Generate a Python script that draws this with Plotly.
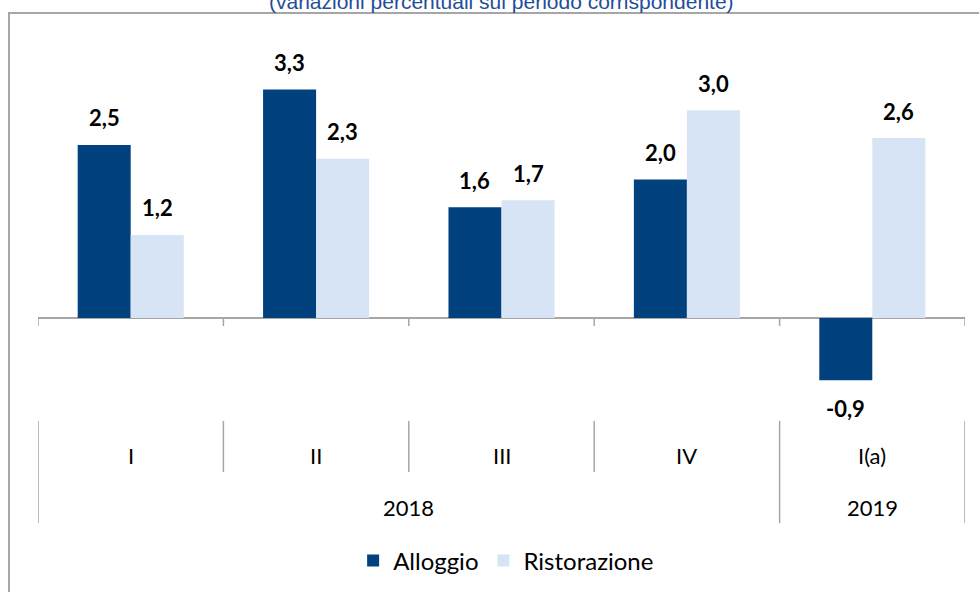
import plotly.graph_objects as go

quarters = ["I", "II", "III", "IV", "I(a)"]
years = ["2018", "2018", "2018", "2018", "2019"]
alloggio = [2.5, 3.3, 1.6, 2.0, -0.9]
ristorazione = [1.2, 2.3, 1.7, 3.0, 2.6]
series_names = ["Alloggio", "Ristorazione"]
title_text = "(variazioni percentuali sul periodo corrispondente)"

C_DARK = "#00417E"
C_LIGHT = "#D6E4F5"
C_LINE = "#A6A6A6"
FONT = "Lato"

idx = list(range(len(quarters)))
w = 0.286

def fmt(v):
    return f"{v:.1f}".replace(".", ",")

fig = go.Figure()
fig.add_trace(go.Bar(x=idx, y=alloggio, name=series_names[0], width=w, offset=-w,
                     marker=dict(color=C_DARK, line=dict(width=0))))
fig.add_trace(go.Bar(x=idx, y=ristorazione, name=series_names[1], width=w, offset=0,
                     marker=dict(color=C_LIGHT, line=dict(width=0))))

ann = []
for i, (a, r) in enumerate(zip(alloggio, ristorazione)):
    for xv, v in ((i - w / 2, a), (i + w / 2, r)):
        ann.append(dict(x=xv, y=v, xref="x", yref="y", text=fmt(v), showarrow=False,
                        yanchor="middle", yshift=27 if v >= 0 else -28,
                        font=dict(family=FONT, size=22, color="#000000", weight="bold")))

# category labels
for i, q in enumerate(quarters):
    ann.append(dict(x=i, y=0.2395, xref="x", yref="paper", text=q, showarrow=False,
                    yanchor="middle", font=dict(family=FONT, size=22, color="#000000")))

# year groups
groups = []
for i, yv in enumerate(years):
    if groups and groups[-1][0] == yv:
        groups[-1][2] = i
    else:
        groups.append([yv, i, i])
for yv, s, e in groups:
    ann.append(dict(x=(s + e) / 2, y=0.1486, xref="x", yref="paper", text=yv, showarrow=False,
                    yanchor="middle", font=dict(family=FONT, size=22, color="#000000")))

ann.append(dict(x=0.5, y=1, xref="paper", yref="paper", text=title_text, showarrow=False,
                yanchor="bottom", yshift=5, xshift=0,
                font=dict(family="Liberation Sans", size=21, color="#1F4E9A")))

shapes = []
# ticks on zero line at boundaries
for b in [i - 0.5 for i in idx] + [idx[-1] + 0.5]:
    shapes.append(dict(type="line", xref="x", yref="y", x0=b, x1=b, y0=0, y1=-0.116,
                       line=dict(color=C_LINE, width=1.5)))
# separators
year_bounds = set()
for yv, s, e in groups:
    year_bounds.add(s - 0.5)
    year_bounds.add(e + 0.5)
for b in [i - 0.5 for i in idx] + [idx[-1] + 0.5]:
    y_low = 0.1206 if b in year_bounds else 0.2098
    shapes.append(dict(type="line", xref="x", yref="paper", x0=b, x1=b, y0=0.2990, y1=y_low,
                       line=dict(color=C_LINE, width=1.5)))
# outer border
shapes.append(dict(type="rect", xref="paper", yref="paper", x0=-0.0313, x1=1.1,
                   y0=-0.1, y1=1.01224, line=dict(color=C_LINE, width=2), fillcolor="rgba(0,0,0,0)"))

fig.update_layout(
    width=979, height=592,
    margin=dict(l=38, r=14, t=20, b=0),
    paper_bgcolor="white", plot_bgcolor="white",
    barmode="overlay",
    xaxis=dict(range=[-0.5, 4.5], visible=False, fixedrange=True),
    yaxis=dict(range=[-3.96, 4.306], showgrid=False, showticklabels=False, zeroline=True,
               zerolinecolor=C_LINE, zerolinewidth=1.5, fixedrange=True),
    legend=dict(orientation="h", x=0.505, xanchor="center", y=0.0542, yanchor="middle",
                font=dict(family=FONT, size=24, color="#000000"), itemwidth=30,
                bgcolor="rgba(0,0,0,0)"),
    annotations=ann, shapes=shapes,
    showlegend=True,
)

fig.write_html("out.html")
